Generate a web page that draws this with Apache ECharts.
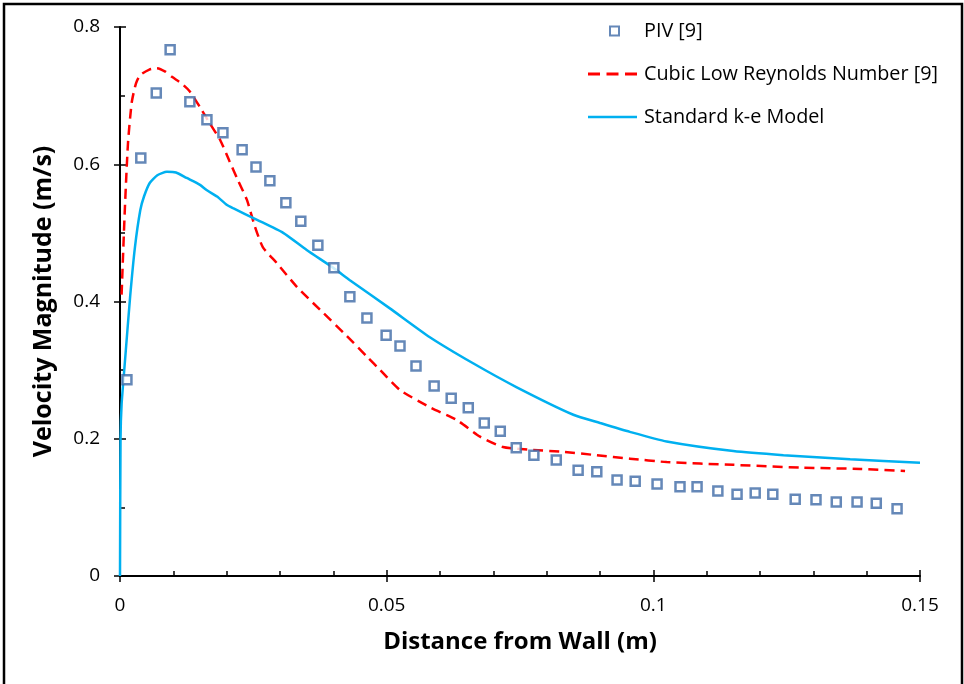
<!DOCTYPE html>
<html>
<head>
<meta charset="utf-8">
<script src="https://cdn.jsdelivr.net/npm/echarts@6/dist/echarts.min.js"></script>
<style>
html,body{margin:0;padding:0;background:#fff;}
#chart{width:964px;height:684px;}
</style>
</head>
<body>
<div id="chart"></div>
<script>
var pivX = [0.0013,0.0039,0.0068,0.0094,0.0131,0.0163,0.0193,0.0229,0.0255,0.0281,0.0311,0.0339,0.0371,0.0401,0.0431,0.0463,0.0499,0.0525,0.0555,0.0589,0.0621,0.0653,0.0683,0.0713,0.0743,0.0776,0.0818,0.0859,0.0894,0.0932,0.0966,0.1007,0.1050,0.1082,0.1121,0.1157,0.1191,0.1224,0.1266,0.1305,0.1343,0.1382,0.1418,0.1457];
var pivY = [0.286,0.609,0.704,0.767,0.691,0.665,0.646,0.621,0.596,0.576,0.544,0.517,0.482,0.449,0.407,0.376,0.351,0.335,0.306,0.277,0.259,0.245,0.223,0.211,0.187,0.176,0.169,0.154,0.152,0.140,0.138,0.134,0.130,0.130,0.124,0.119,0.121,0.119,0.112,0.111,0.108,0.108,0.106,0.098];

var cubicX = [0.0003,0.0009,0.0015,0.0022,0.003,0.0038,0.0055,0.0069,0.0085,0.0098,0.0115,0.0131,0.015,0.0168,0.0188,0.0205,0.0221,0.0238,0.0253,0.0268,0.0294,0.0332,0.0375,0.0425,0.0465,0.0488,0.0525,0.0581,0.0632,0.0675,0.0718,0.0769,0.0831,0.0894,0.0956,0.1025,0.115,0.1275,0.1388,0.1472];
var cubicY = [0.41,0.533,0.631,0.69,0.718,0.730,0.738,0.740,0.735,0.727,0.718,0.706,0.683,0.66,0.635,0.605,0.577,0.548,0.509,0.479,0.456,0.421,0.388,0.350,0.318,0.300,0.271,0.246,0.227,0.203,0.188,0.184,0.181,0.176,0.171,0.166,0.162,0.158,0.156,0.153];

var stdX = [0,0.0001,0.0003,0.0009,0.0019,0.0028,0.0038,0.0045,0.0056,0.007,0.0088,0.0105,0.0125,0.015,0.0163,0.0182,0.02,0.0212,0.0257,0.0306,0.035,0.04,0.0431,0.0506,0.0581,0.0662,0.0744,0.085,0.09,0.0956,0.1025,0.115,0.1244,0.1369,0.15];
var stdY = [0,0.2,0.25,0.31,0.407,0.479,0.533,0.553,0.573,0.584,0.589,0.588,0.580,0.570,0.562,0.553,0.541,0.536,0.519,0.500,0.475,0.449,0.431,0.390,0.348,0.310,0.275,0.235,0.223,0.210,0.196,0.182,0.176,0.170,0.165];

var xTicks = {min:0, max:0.15, interval:0.05};
var yTicks = {min:0, max:0.8, interval:0.2};
var names = ['PIV [9]','Cubic Low Reynolds Number [9]','Standard k-e Model'];
var xTitle = 'Distance from Wall (m)';
var yTitle = 'Velocity Magnitude (m/s)';

function zip(a,b){return a.map(function(v,i){return [v,b[i]];});}

var FONT = '"Open Sans"';
var chart = echarts.init(document.getElementById('chart'), null, {renderer:'canvas'});
var legendText = {fontFamily:FONT, fontSize:19.8, color:'#000'};
chart.setOption({
  animation:false,
  backgroundColor:'#fff',
  grid:{left:120, right:44, top:27, bottom:108},
  xAxis:[{
    type:'value', min:xTicks.min, max:xTicks.max, interval:xTicks.interval,
    position:'bottom',
    axisLine:{show:true, onZero:false, lineStyle:{color:'#000', width:2}},
    axisTick:{show:true, inside:true, length:6, lineStyle:{color:'#000', width:1.5}},
    minorTick:{show:true, splitNumber:5, length:5, lineStyle:{color:'#000', width:1.5}},
    splitLine:{show:false},
    axisLabel:{margin:20, fontFamily:FONT, fontSize:19, color:'#000'},
    name:xTitle, nameLocation:'middle', nameGap:54,
    nameTextStyle:{fontFamily:FONT, fontSize:24, fontWeight:'bold', color:'#000'}
  },{
    type:'value', min:xTicks.min, max:xTicks.max, interval:xTicks.interval,
    position:'bottom',
    axisLine:{show:false},
    axisTick:{show:true, inside:false, length:6, lineStyle:{color:'#000', width:1.5}},
    axisLabel:{show:false}, splitLine:{show:false}
  }],
  yAxis:[{
    type:'value', min:yTicks.min, max:yTicks.max, interval:yTicks.interval,
    position:'left',
    axisLine:{show:true, onZero:false, lineStyle:{color:'#000', width:2}},
    axisTick:{show:true, inside:true, length:6, lineStyle:{color:'#000', width:1.5}},
    minorTick:{show:true, splitNumber:2, length:5, lineStyle:{color:'#000', width:1.5}},
    splitLine:{show:false},
    axisLabel:{margin:20, fontFamily:FONT, fontSize:19, color:'#000'},
    name:yTitle, nameLocation:'middle', nameGap:64,
    nameTextStyle:{fontFamily:FONT, fontSize:25, fontWeight:'bold', color:'#000'}
  },{
    type:'value', min:yTicks.min, max:yTicks.max, interval:yTicks.interval,
    position:'left',
    axisLine:{show:false},
    axisTick:{show:true, inside:false, length:6, lineStyle:{color:'#000', width:1.5}},
    axisLabel:{show:false}, splitLine:{show:false}
  }],
  legend:[
    {data:[names[0]], orient:'vertical', left:609, top:21, padding:0, itemWidth:9, itemHeight:9, textStyle:Object.assign({padding:[0,0,0,20]}, legendText), selectedMode:false},
    {data:[names[1]], orient:'vertical', left:588, top:64, padding:0, itemWidth:49, itemHeight:3,
     icon:'path://M0,0h12v3h-12z M18.5,0h12v3h-12z M37,0h12v3h-12z',
     textStyle:Object.assign({padding:[0,0,0,2]}, legendText), selectedMode:false},
    {data:[names[2]], orient:'vertical', left:588, top:107, padding:0, itemWidth:49, itemHeight:2.5,
     icon:'rect',
     textStyle:Object.assign({padding:[0,0,0,2]}, legendText), selectedMode:false}
  ],
  graphic:[{
    type:'rect', shape:{x:4, y:4, width:958, height:700},
    style:{fill:'none', stroke:'#000', lineWidth:2.5}, silent:true, z:100
  }],
  series:[
    {
      name:names[0], type:'scatter', data:zip(pivX,pivY),
      symbol:'rect', symbolSize:9,
      itemStyle:{color:'#fff', borderColor:'#3F6AA6', borderWidth:2.5},
      z:5
    },
    {
      name:names[1], type:'line', data:zip(cubicX,cubicY),
      showSymbol:false, symbol:'none', smooth:0.2,
      lineStyle:{color:'#FF0000', width:2.5, type:[10,6]},
      itemStyle:{color:'#FF0000'}, z:3
    },
    {
      name:names[2], type:'line', data:zip(stdX,stdY),
      showSymbol:false, symbol:'none', smooth:0.2,
      lineStyle:{color:'#00B0F0', width:2.5},
      itemStyle:{color:'#00B0F0'}, z:4
    }
  ]
});
</script>
</body>
</html>
